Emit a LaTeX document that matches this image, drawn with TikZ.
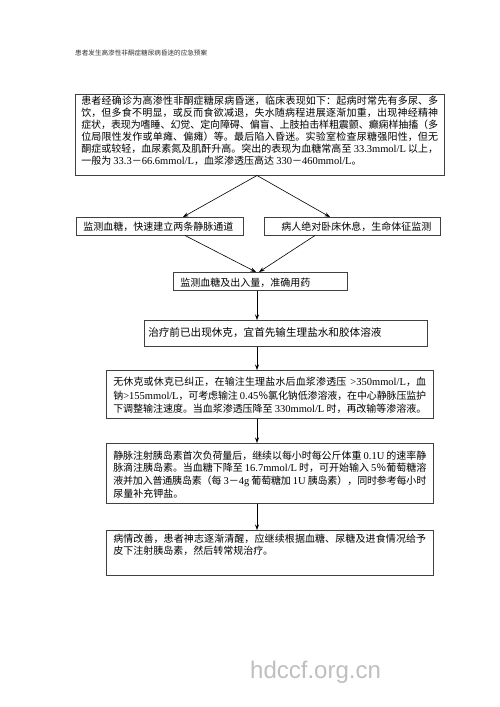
\documentclass[tikz,border=0pt]{standalone}
\usepackage{fontspec}
\setmainfont{Noto Sans CJK SC}
\newfontfamily\lat[Scale=1.05]{Liberation Serif}
\newfontfamily\wmfont{Liberation Sans}
\usetikzlibrary{arrows.meta,shadows}
\XeTeXlinebreaklocale "zh"
\XeTeXlinebreakskip=0pt plus 1pt minus 0.5pt
\newcommand\fbtext[4]{\parbox[c][#2][t]{#1}{\tolerance=9999\hbadness=10000\rule{0pt}{#3}#4}}
\tikzset{
  flowbox/.style={draw=black!75, line width=0.5pt, fill=white, inner ysep=0pt,
    anchor=north west,
    drop shadow={shadow xshift=0.8pt, shadow yshift=-0.8pt, fill=black!55, opacity=0.9}},
  flowarrow/.style={draw=black, line width=0.6pt, -{Stealth[length=5.5pt,width=4pt]}},
  txt/.style={font=\fontsize{10}{12}\selectfont},
}
\begin{document}
\begin{tikzpicture}[x=1pt,y=-1pt]
\useasboundingbox (0,0) rectangle (500,707);
\fill[white] (0,0) rectangle (500,707);

\node[anchor=west, font=\fontsize{6.6}{8}\selectfont, text=black!80, inner sep=0pt] (hdr) at (75,53) {患者发生高渗性非酮症糖尿病昏迷的应急预案};

\node[flowbox, txt, inner xsep=6pt] (b1) at (75,94) {\fbtext{357pt}{81pt}{9.8pt}{%
患者经确诊为高渗性非酮症糖尿病昏迷，临床表现如下：起病时常先有多尿、多\linebreak
饮，但多食不明显，或反而食欲减退，失水随病程进展逐渐加重，出现神经精神\linebreak
症状，表现为嗜睡、幻觉、定向障碍、偏盲、上肢拍击样粗震颤、癫痫样抽搐（多\linebreak
位局限性发作或单瘫、偏瘫）等。最后陷入昏迷。实验室检查尿糖强阳性，但无\linebreak
酮症或较轻，血尿素氮及肌酐升高。突出的表现为血糖常高至 {\lat 33.3mmol/L} 以上，\linebreak
一般为 {\lat 33.3}－{\lat 66.6mmol/L}，血浆渗透压高达 {\lat 330}－{\lat 460mmol/L}。}};

\node[flowbox, txt, inner xsep=7pt] (b2l) at (76,217) {\fbtext{153pt}{18pt}{12.8pt}{监测血糖，快速建立两条静脉通道}};
\node[flowbox, txt, inner xsep=7pt] (b2r) at (264,217) {\fbtext{162pt}{18pt}{12.8pt}{\hspace*{10pt}病人绝对卧床休息，生命体征监测}};

\node[flowbox, txt, inner xsep=7pt] (b3) at (173,272) {\fbtext{160pt}{18pt}{13.8pt}{监测血糖及出入量，准确用药}};

\node[flowbox, font=\fontsize{10.6}{12}\selectfont, inner xsep=4pt] (b4) at (144,320) {\fbtext{275pt}{26pt}{16.5pt}{治疗前已出现休克，宜首先输生理盐水和胶体溶液}};

\node[flowbox, font=\fontsize{10}{13.3}\selectfont, inner xsep=7pt] (b5) at (106,370) {\fbtext{313pt}{48pt}{15.5pt}{%
无休克或休克已纠正，在输注生理盐水后血浆渗透压\hspace{4pt}{\lat >350mmol/L}，血\linebreak
钠{\lat >155mmol/L}，可考虑输注 {\lat 0.45}％氯化钠低渗溶液，在中心静脉压监护\linebreak
下调整输注速度。当血浆渗透压降至 {\lat 330mmol/L} 时，再改输等渗溶液。}};

\node[flowbox, font=\fontsize{10}{12.7}\selectfont, inner xsep=7pt] (b6) at (106,443) {\fbtext{313pt}{60pt}{15.8pt}{%
静脉注射胰岛素首次负荷量后，继续以每小时每公斤体重 {\lat 0.1U} 的速率静\linebreak
脉滴注胰岛素。当血糖下降至 {\lat 16.7mmol/L} 时，可开始输入 {\lat 5}％葡萄糖溶\linebreak
液并加入普通胰岛素（每 {\lat 3}－{\lat 4g} 葡萄糖加 {\lat 1U} 胰岛素），同时参考每小时\linebreak
尿量补充钾盐。}};

\node[flowbox, txt, inner xsep=7pt] (b7) at (106,530) {\fbtext{313pt}{45pt}{11.8pt}{%
病情改善，患者神志逐渐清醒，应继续根据血糖、尿糖及进食情况给予\linebreak
皮下注射胰岛素，然后转常规治疗。}};

\coordinate (axis) at (257,0);
\coordinate (tl) at (183,0);
\coordinate (tr) at (330,0);
\coordinate (sl) at (185,0);
\coordinate (sr) at (315,0);
\coordinate (t3l) at (256,0);
\coordinate (t3r) at (259,0);

\draw[flowarrow] (b1.south -| axis) -- (b2l.north -| tl);
\draw[flowarrow] (b1.south -| axis) -- (b2r.north -| tr);
\draw[flowarrow] (b2l.south -| sl) -- (b3.north -| t3l);
\draw[flowarrow] (b2r.south -| sr) -- (b3.north -| t3r);
\draw[flowarrow] (b3.south -| axis) -- (b4.north -| axis);
\draw[flowarrow] (b4.south -| axis) -- (b5.north -| axis);
\draw[flowarrow] (b5.south -| axis) -- (b6.north -| axis);
\draw[flowarrow] (b6.south -| axis) -- (b7.north -| axis);

\node[anchor=base west, font=\wmfont\fontsize{24}{24}\selectfont, text=black!25, inner sep=0pt] (wm) at (250,678) {hdccf.org.cn};
\end{tikzpicture}
\end{document}
